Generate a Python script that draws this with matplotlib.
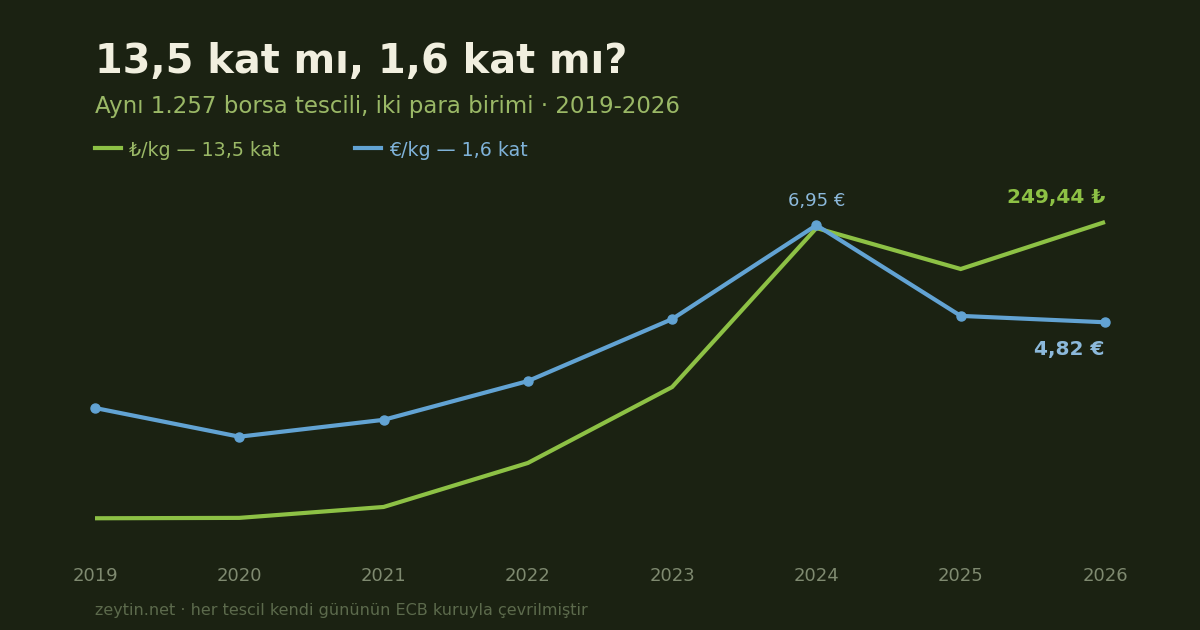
import matplotlib
matplotlib.use("Agg")
import matplotlib.pyplot as plt
from matplotlib.lines import Line2D

plt.rcParams['font.family'] = ['DejaVu Sans', 'Noto Sans']

# data
years = [2019, 2020, 2021, 2022, 2023, 2024, 2025, 2026]
tl_per_kg = [18.5, 18.8, 27.3, 61.6, 120.8, 244.7, 212.8, 249.44]
eur_per_kg = [2.94, 2.31, 2.68, 3.53, 4.89, 6.95, 4.96, 4.82]

title = "13,5 kat mı, 1,6 kat mı?"
subtitle = "Aynı 1.257 borsa tescili, iki para birimi · 2019-2026"
legend_labels = ["₺/kg — 13,5 kat", "€/kg — 1,6 kat"]
footer = "zeytin.net · her tescil kendi gününün ECB kuruyla çevrilmiştir"

BG = "#1b2212"
GREEN = "#8dc145"
BLUE = "#62a3d3"

W, H = 1200, 630
fig = plt.figure(figsize=(12, 6.3), dpi=100, facecolor=BG)

# plot area: 2019 at x=95, 2026 at x=1105; zero at y=542, top at y=222
ax = fig.add_axes([95 / W, (H - 542) / H, 1010 / W, 320 / H])
ax.set_facecolor(BG)
ax2 = ax.twinx()

ax.plot(years, tl_per_kg, color=GREEN, lw=3, solid_capstyle='butt',
        solid_joinstyle='miter', clip_on=False, zorder=2)
ax2.plot(years, eur_per_kg, color=BLUE, lw=3, marker='o', ms=6.5,
         solid_joinstyle='miter', clip_on=False, zorder=3)

ax.set_xlim(years[0], years[-1])
ax.set_ylim(0, max(tl_per_kg))
ax2.set_ylim(0, max(eur_per_kg) * 1.01)

for a in (ax, ax2):
    for s in a.spines.values():
        s.set_visible(False)
    a.set_yticks([])
ax.set_xticks(years)
ax.set_xticklabels([str(y) for y in years])
ax.tick_params(axis='x', length=0, pad=18, labelsize=13, colors="#7f8a70")

# annotations
peak = eur_per_kg.index(max(eur_per_kg))
ax2.annotate(f"{eur_per_kg[peak]:.2f} €".replace('.', ','),
             (years[peak], eur_per_kg[peak]), xytext=(0, 11),
             textcoords='offset points', ha='center', va='bottom',
             fontsize=13, color="#8cb9db")
ax.annotate(f"{tl_per_kg[-1]:.2f} ₺".replace('.', ','),
            (years[-1], tl_per_kg[-1]), xytext=(0, 11),
            textcoords='offset points', ha='right', va='bottom',
            fontsize=14.5, fontweight='bold', color=GREEN)
ax2.annotate(f"{eur_per_kg[-1]:.2f} €".replace('.', ','),
             (years[-1], eur_per_kg[-1]), xytext=(0, -13),
             textcoords='offset points', ha='right', va='top',
             fontsize=14.5, fontweight='bold', color="#8cb9db")

# header
fig.text(95 / W, 1 - 73 / H, title, fontsize=28.7, fontweight='bold',
         color="#f1efdf", ha='left', va='baseline')
fig.text(95 / W, 1 - 113 / H, subtitle, fontsize=16.5, color="#9ab866",
         ha='left', va='baseline')

# legend
for x0, col, lab, tcol in [(95, GREEN, legend_labels[0], "#9ab866"),
                           (355, BLUE, legend_labels[1], "#7fb2d8")]:
    fig.add_artist(Line2D([x0 / W, (x0 + 26) / W], [1 - 148 / H] * 2,
                          color=col, lw=3, transform=fig.transFigure))
    fig.text((x0 + 34) / W, 1 - 148 / H, lab, fontsize=13.7, color=tcol,
             ha='left', va='center_baseline')

fig.text(95 / W, 1 - 615 / H, footer, fontsize=11.5, color="#5c6a4c",
         ha='left', va='baseline')

fig.savefig("out.png", dpi=100, facecolor=BG)
